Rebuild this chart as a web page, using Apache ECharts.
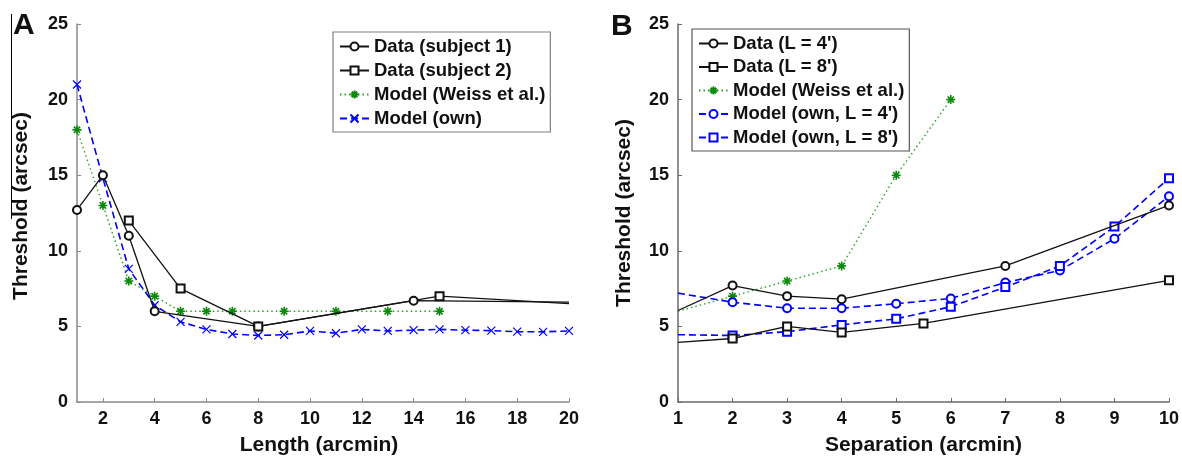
<!DOCTYPE html>
<html>
<head>
<meta charset="utf-8">
<script src="https://cdn.jsdelivr.net/npm/echarts@6/dist/echarts.min.js"></script>
<style>
  html, body { margin: 0; padding: 0; background: #fff; }
  #chart { width: 1182px; height: 461px; }
</style>
</head>
<body>
<div id="chart"></div>
<script>
// ---------- Panel A data ----------
const lengthS1 = [1, 2, 3, 4, 8, 14, 20];
const thrS1 = [12.7, 15, 11, 6, 5, 6.7, 6.6];
const lengthS2 = [3, 5, 8, 15, 20];
const thrS2 = [12, 7.5, 5, 7, 6.5];
const lengthWeiss = [1, 2, 3, 4, 5, 6, 7, 9, 11, 13, 15];
const thrWeissA = [18, 13, 8, 7, 6, 6, 6, 6, 6, 6, 6];
const lengthOwn = [1, 2, 3, 4, 5, 6, 7, 8, 9, 10, 11, 12, 13, 14, 15, 16, 17, 18, 19, 20];
const thrOwnA = [21, 14.8, 8.8, 6.4, 5.3, 4.8, 4.5, 4.4, 4.45, 4.7, 4.55, 4.8, 4.7, 4.75, 4.8, 4.75, 4.72, 4.65, 4.64, 4.7];
const lengthTicks = [2, 4, 6, 8, 10, 12, 14, 16, 18, 20];
const namesA = ['Data (subject 1)', 'Data (subject 2)', 'Model (Weiss et al.)', 'Model (own)'];

// ---------- Panel B data ----------
const sepL4 = [1, 2, 3, 4, 7, 10];
const thrL4 = [6.05, 7.7, 7, 6.8, 9, 13];
const sepL8 = [1, 2, 3, 4, 5.5, 10];
const thrL8 = [3.95, 4.2, 5, 4.6, 5.2, 8.05];
const sepWeiss = [1, 2, 3, 4, 5, 6];
const thrWeissB = [6, 7, 8, 9, 15, 20];
const sepOwn = [1, 2, 3, 4, 5, 6, 7, 8, 9, 10];
const thrOwnL4 = [7.2, 6.6, 6.2, 6.2, 6.5, 6.85, 7.9, 8.7, 10.8, 13.6];
const thrOwnL8 = [4.45, 4.4, 4.65, 5.1, 5.5, 6.3, 7.6, 9.0, 11.6, 14.8];
const namesB = ["Data (L = 4')", "Data (L = 8')", 'Model (Weiss et al.)', "Model (own, L = 4')", "Model (own, L = 8')"];

// points lying on the axis limit are drawn without a marker (as in the source figure)
const edgeA = 20;
const edgeB = 1;

function pts(xs, ys, edge) {
  return xs.map((x, i) => x === edge ? { value: [x, ys[i]], symbol: 'none' } : [x, ys[i]]);
}

const FONT = 'Liberation Sans, Arial, sans-serif';
const BLACK = '#111111';
const BLUE = '#0000ff';
const GREEN = '#0a8a0a';
const AXIS_A = '#8a8a8a';
const AXIS_B = '#6a6a6a';
const STAR = 'path://M5 0L5 10M0 5L10 5M1.5 1.5L8.5 8.5M8.5 1.5L1.5 8.5';
const CROSS = 'path://M0 0L10 10M10 0L0 10';

function blackSeries(name, data, symbol, gi) {
  return {
    type: 'line', name, data, xAxisIndex: gi, yAxisIndex: gi,
    symbol, symbolSize: 8, showAllSymbol: true,
    lineStyle: { color: BLACK, width: 1.3, type: 'solid' },
    itemStyle: { color: BLACK, borderColor: BLACK, borderWidth: 1.1 },
    emphasis: { disabled: true }, animation: false, z: 3
  };
}
function weissSeries(name, data, gi) {
  return {
    type: 'line', name, data, xAxisIndex: gi, yAxisIndex: gi,
    symbol: STAR, symbolSize: 9, showAllSymbol: true,
    lineStyle: { color: '#2aa02a', width: 1.4, type: [1.5, 3] },
    itemStyle: { color: GREEN, borderColor: GREEN, borderWidth: 1.6 },
    emphasis: { disabled: true }, animation: false, z: 2
  };
}
function blueSeries(name, data, symbol, gi) {
  return {
    type: 'line', name, data, xAxisIndex: gi, yAxisIndex: gi,
    symbol, symbolSize: 8, showAllSymbol: true,
    lineStyle: { color: BLUE, width: 1.6, type: [7, 4] },
    itemStyle: { color: BLUE, borderColor: BLUE, borderWidth: 1.2 },
    emphasis: { disabled: true }, animation: false, z: 2
  };
}

function yAxisCfg(gi, axisColor) {
  return {
    type: 'value', gridIndex: gi, min: 0, max: 25, interval: 5,
    name: 'Threshold (arcsec)', nameLocation: 'middle',
    nameGap: gi === 0 ? 45 : 43,
    nameTextStyle: { fontFamily: FONT, fontWeight: 'bold', fontSize: 21, color: BLACK,
                     padding: gi === 0 ? [0, 0, 0, 14] : 0 },
    axisLine: { show: true, lineStyle: { color: axisColor, width: 1.5 } },
    axisTick: { show: true, inside: true, length: 4, lineStyle: { color: axisColor, width: 1 } },
    axisLabel: { fontFamily: FONT, fontWeight: 'bold', fontSize: 18, color: BLACK, margin: 9 },
    splitLine: { show: false }
  };
}

const option = {
  backgroundColor: '#ffffff',
  animation: false,
  grid: [
    { left: 77, top: 24, width: 492, height: 379 },
    { left: 678, top: 24, width: 492, height: 379 }
  ],
  xAxis: [
    {
      type: 'value', gridIndex: 0, min: 1, max: 20,
      name: 'Length (arcmin)', nameLocation: 'middle', nameGap: 33,
      nameTextStyle: { fontFamily: FONT, fontWeight: 'bold', fontSize: 21, color: BLACK, padding: [0, 8, 0, 0] },
      axisLine: { show: true, onZero: false, lineStyle: { color: AXIS_A, width: 1.5 } },
      axisTick: { show: true, inside: true, length: 4, customValues: lengthTicks, lineStyle: { color: AXIS_A, width: 1 } },
      axisLabel: { fontFamily: FONT, fontWeight: 'bold', fontSize: 18, color: BLACK, margin: 8, customValues: lengthTicks },
      splitLine: { show: false }
    },
    {
      type: 'value', gridIndex: 1, min: 1, max: 10, interval: 1,
      name: 'Separation (arcmin)', nameLocation: 'middle', nameGap: 33,
      nameTextStyle: { fontFamily: FONT, fontWeight: 'bold', fontSize: 21, color: BLACK },
      axisLine: { show: true, onZero: false, lineStyle: { color: AXIS_B, width: 1.5 } },
      axisTick: { show: true, inside: true, length: 4, lineStyle: { color: AXIS_B, width: 1 } },
      axisLabel: { fontFamily: FONT, fontWeight: 'bold', fontSize: 18, color: BLACK, margin: 8 },
      splitLine: { show: false }
    }
  ],
  yAxis: [yAxisCfg(0, AXIS_A), yAxisCfg(1, AXIS_B)],
  legend: [
    {
      data: namesA, orient: 'vertical', left: 333, top: 32,
      itemWidth: 29, itemHeight: 10, itemGap: 5,
      padding: [5, 5, 4, 6],
      borderColor: '#808080', borderWidth: 1.2, backgroundColor: '#ffffff',
      textStyle: { fontFamily: FONT, fontWeight: 'bold', fontSize: 18.5, lineHeight: 18, color: BLACK },
      selectedMode: false
    },
    {
      data: namesB, orient: 'vertical', left: 692, top: 29,
      itemWidth: 29, itemHeight: 10, itemGap: 4.5,
      padding: [5, 5, 4, 6],
      borderColor: '#555555', borderWidth: 1.2, backgroundColor: '#ffffff',
      textStyle: { fontFamily: FONT, fontWeight: 'bold', fontSize: 18.5, lineHeight: 18, color: BLACK },
      selectedMode: false
    }
  ],
  graphic: [
    { type: 'text', left: 13, top: 11, style: { text: 'A', fontFamily: FONT, fontWeight: 'bold', fontSize: 30, fill: BLACK } },
    { type: 'text', left: 611, top: 12, style: { text: 'B', fontFamily: FONT, fontWeight: 'bold', fontSize: 30, fill: BLACK } },
    { type: 'line', shape: { x1: 11.5, y1: 14, x2: 11.5, y2: 219 }, style: { stroke: '#000', lineWidth: 1 } }
  ],
  series: [
    blackSeries(namesA[0], pts(lengthS1, thrS1, edgeA), 'emptyCircle', 0),
    blackSeries(namesA[1], pts(lengthS2, thrS2, edgeA), 'emptyRect', 0),
    weissSeries(namesA[2], pts(lengthWeiss, thrWeissA, edgeA), 0),
    blueSeries(namesA[3], pts(lengthOwn, thrOwnA, null), CROSS, 0),

    blackSeries(namesB[0], pts(sepL4, thrL4, edgeB), 'emptyCircle', 1),
    blackSeries(namesB[1], pts(sepL8, thrL8, edgeB), 'emptyRect', 1),
    weissSeries(namesB[2], pts(sepWeiss, thrWeissB, edgeB), 1),
    blueSeries(namesB[3], pts(sepOwn, thrOwnL4, edgeB), 'emptyCircle', 1),
    blueSeries(namesB[4], pts(sepOwn, thrOwnL8, edgeB), 'emptyRect', 1)
  ]
};

const chart = echarts.init(document.getElementById('chart'), null, { renderer: 'canvas' });
chart.setOption(option);
</script>
</body>
</html>
